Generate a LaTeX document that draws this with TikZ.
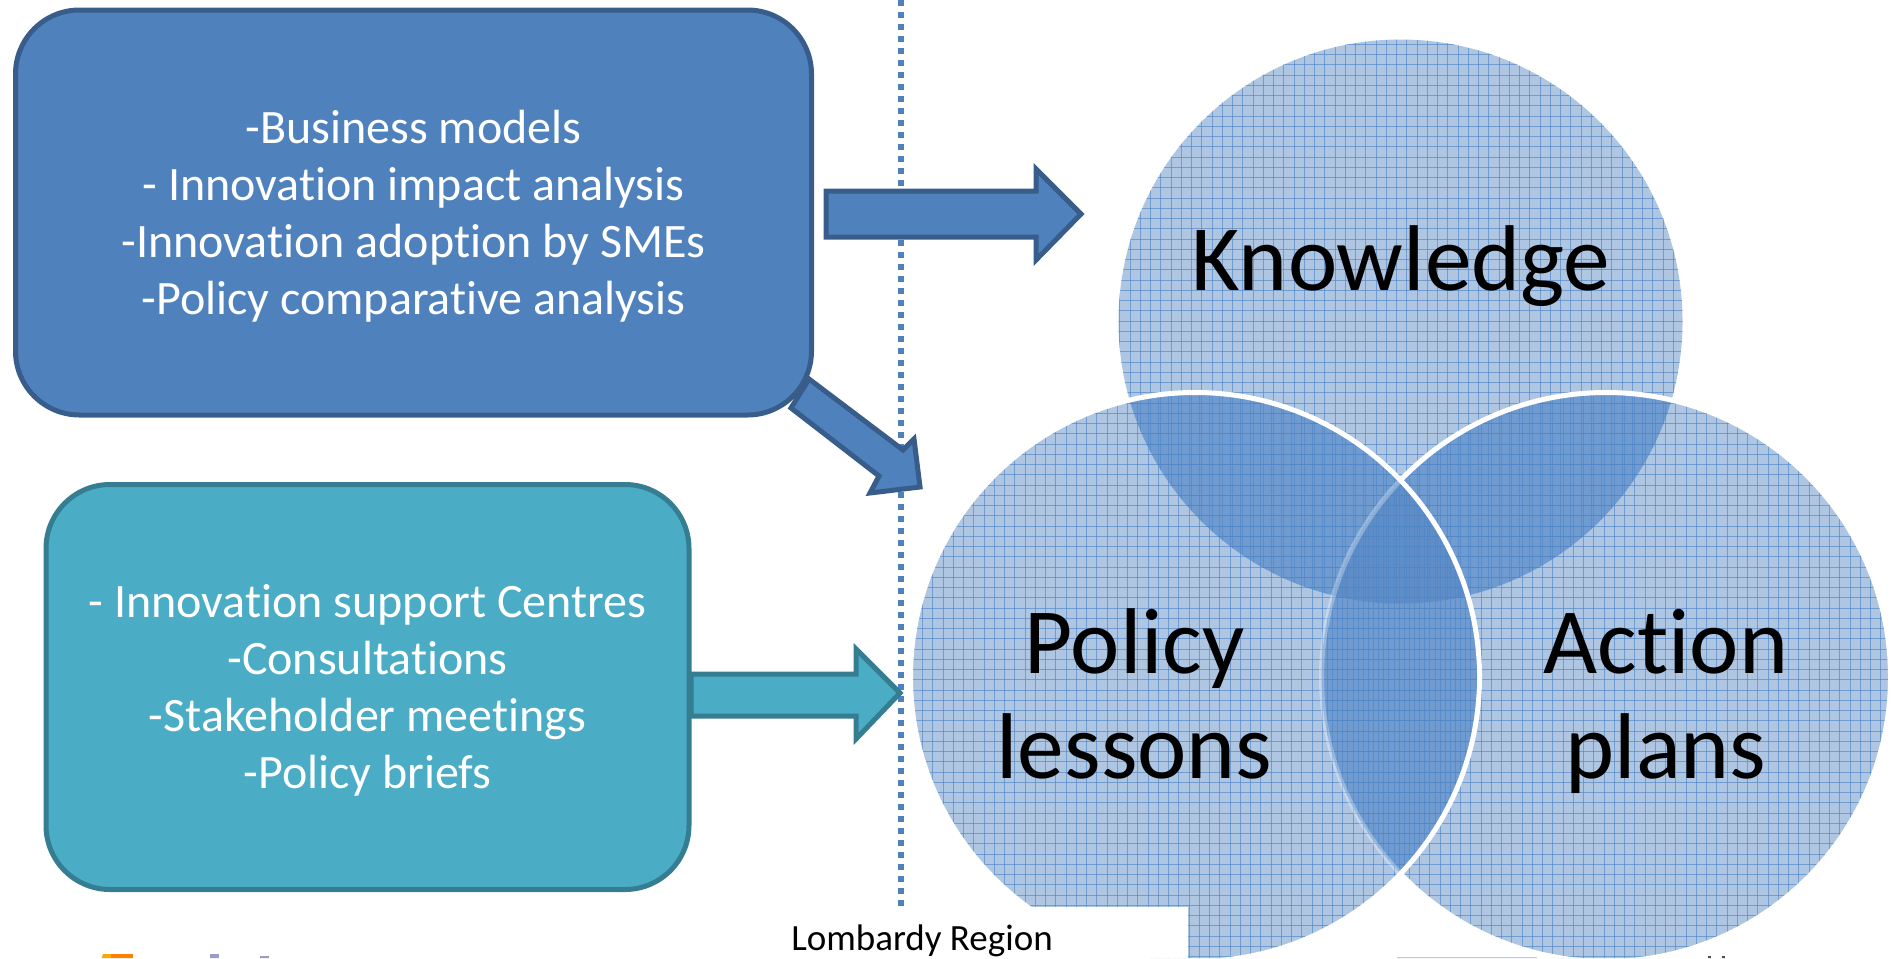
\documentclass[tikz,border=0pt]{standalone}
\usepackage{fontspec}
\setmainfont[Ligatures=NoCommon]{Carlito}
\definecolor{boxblue}{HTML}{4F81BD}
\definecolor{boxblueline}{HTML}{385D8A}
\definecolor{boxteal}{HTML}{4BACC6}
\definecolor{boxtealline}{HTML}{357D91}
\definecolor{vone}{HTML}{AFC6E3}
\definecolor{vtwo}{HTML}{6F9BD0}
\definecolor{vthree}{HTML}{5F8DC8}
\definecolor{gridblue}{HTML}{4F86C6}
\tikzset{
  softbox/.style={draw=#1,line width=2.5pt,rounded corners=32pt},
  blockarrow/.style={line width=2.5pt,line join=miter},
  boxtext/.style={text=white,font=\fontsize{24}{28.6}\selectfont,align=center,inner sep=0pt},
  bigtext/.style={text=black,font=\fontsize{46.7}{52.5}\selectfont,align=center,inner sep=0pt},
  gridline/.style={draw=gridblue,line width=0.5pt,opacity=0.65},
}
\newcommand{\KnowC}{(1400.5,321.5) circle[radius=282]}
\newcommand{\PolC}{(1195,677) circle[radius=284.5]}
\newcommand{\ActC}{(1606,677) circle[radius=284.5]}
\newcommand{\meshlines}[2]{%
  \foreach \k in {0,...,190}{\draw[gridline] ({#1+\k*10.25},0) -- ({#1+\k*10.25},965);}
  \foreach \k in {0,...,95}{\draw[gridline] (0,{#2+\k*10.25}) -- (1894,{#2+\k*10.25});}
}
\begin{document}
\begin{tikzpicture}[x=0.5pt,y=-0.5pt]
\useasboundingbox (0,0) rectangle (1894,958);
\clip (0,0) rectangle (1894,958) -- (1894,972) -- (0,972) -- cycle;
% divider
\draw[boxblue,line width=3pt,dash pattern=on 3pt off 3pt] (901,0) -- (901,907);
% Venn fills
\fill[vone] \KnowC;
\fill[vone] \ActC;
\fill[vone] \PolC;
\begin{scope}\clip \KnowC; \fill[vtwo] \ActC; \fill[vtwo] \PolC; \end{scope}
\begin{scope}\clip \ActC; \fill[vtwo] \PolC; \end{scope}
\begin{scope}\clip \KnowC; \clip \ActC; \fill[vthree] \PolC; \end{scope}
% Meshes
\begin{scope}\clip \KnowC; \meshlines{2.7}{3.3} \end{scope}
\begin{scope}\clip \ActC; \meshlines{5.2}{3.3} \end{scope}
\begin{scope}\clip \PolC; \meshlines{0.2}{3.3} \end{scope}
% white outlines: Action's is veiled where Policy lies over it
\begin{scope}[even odd rule]
 \clip (0,0) rectangle (1894,972) \PolC;
 \draw[white,line width=2.5pt] \ActC;
\end{scope}
\begin{scope}
 \clip \PolC;
 \draw[white,line width=2.5pt,opacity=0.3] \ActC;
\end{scope}
\draw[white,line width=2.5pt] \PolC;
% white patch
\fill[white] (800,907) rectangle (1188,972);
% boxes
\node[softbox=boxblueline,fill=boxblue,minimum width=398pt,minimum height=202.5pt,inner sep=0pt,anchor=north west] (research) at (13,7.5) {};
\node[softbox=boxtealline,fill=boxteal,minimum width=321.5pt,minimum height=202.5pt,inner sep=0pt,anchor=north west] (support) at (43.5,482) {};
\node[boxtext] (researchtext) at (413.5,216) {-Business models\\- Innovation impact analysis\\-Innovation adoption by SMEs\\-Policy comparative analysis};
\node[boxtext] (supporttext) at (367.5,690.5) {- Innovation support Centres\\-Consultations\\-Stakeholder meetings\\-Policy briefs};
% block arrows
\draw[blockarrow,fill=boxblue,draw=boxblueline] (826,191) -- (1036,191) -- (1036,169) -- (1081,214) -- (1036,260) -- (1036,237) -- (826,237) -- cycle;
\draw[blockarrow,fill=boxteal,draw=boxtealline] (691,674) -- (856,674) -- (856,649) -- (900,693) -- (856,739) -- (856,716) -- (691,716) -- cycle;
\draw[blockarrow,fill=boxblue,draw=boxblueline] (809,379) -- (791,408) -- (879,476) -- (870,493) -- (920,487) -- (914,439) -- (903,450) -- cycle;
% big labels
\node[bigtext] (know) at (1401,266) {Knowledge};
\node[bigtext] (policy) at (1134.5,694) {Policy\\lessons};
\node[bigtext] (action) at (1666,701) {Action\\plans};
\node[text=black,font=\fontsize{18.5}{22}\selectfont,inner sep=0pt] (lombardy) at (922,941) {Lombardy Region};
% cropped bits at lower edge
\fill[orange!70!yellow] (97,972) -- (103,954) -- (111,954) -- (111,972) -- cycle;
\fill[orange] (111,954) rectangle (133,972);
\fill[blue!30!gray!60] (210,954) rectangle (219,972);
\fill[blue!30!gray!60] (260,956) rectangle (269,972);
\fill[cyan!30!blue!25] (1397,956.5) rectangle (1537,972);
\fill[black!70] (1708,956) rectangle (1711,972);
\fill[black!70] (1722,956) rectangle (1725,972);
\end{tikzpicture}
\end{document}
